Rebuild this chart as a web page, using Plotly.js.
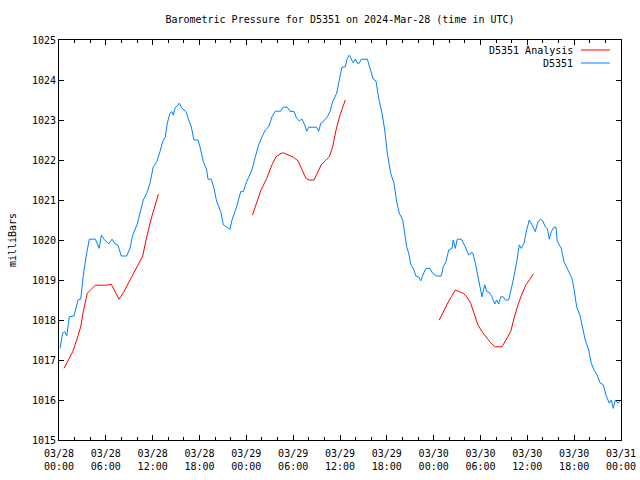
<!DOCTYPE html>
<html>
<head>
<meta charset="utf-8">
<script src="https://cdn.plot.ly/plotly-3.0.1.min.js"></script>
<style>html,body{margin:0;padding:0;background:#fff;}#chart{width:640px;height:480px;}</style>
</head>
<body>
<div id="chart"></div>
<script>
// Hours since 2024-03-28 00:00 UTC
const obsHours = [0.13,0.47,0.73,0.99,1.32,1.92,2.43,2.78,3.11,3.46,3.88,4.65,5.16,5.42,5.76,6.37,6.79,7.21,7.56,7.98,8.67,9.10,9.44,10.03,10.47,10.80,11.24,11.66,12.08,12.52,12.94,13.28,13.62,13.87,14.22,14.48,14.64,14.90,15.15,15.41,15.76,16.27,16.62,16.95,17.29,17.81,18.06,18.49,18.92,19.09,19.51,19.86,20.20,20.72,21.05,21.56,21.91,22.16,22.76,23.28,23.61,24.05,24.72,25.15,25.58,26.01,26.43,26.86,27.29,27.71,28.40,28.73,29.25,29.59,30.11,30.45,30.78,31.13,31.48,31.73,31.99,33.01,33.27,33.53,33.86,34.37,34.72,35.06,35.58,35.91,36.25,36.68,36.93,37.19,37.45,37.70,37.96,38.21,38.47,38.73,39.50,39.93,40.26,40.61,40.96,41.38,41.73,42.06,42.49,42.92,43.26,43.59,44.03,44.29,44.54,44.80,45.06,45.39,45.73,46.08,46.34,46.67,47.02,47.53,47.87,48.39,48.98,49.23,49.58,49.93,50.35,50.51,50.77,51.02,51.54,52.05,52.49,52.74,53.00,53.34,53.59,53.94,54.19,54.54,54.80,55.12,55.47,55.82,56.07,56.33,56.59,56.92,57.18,57.61,57.94,58.20,58.64,58.97,59.23,59.57,59.92,60.25,60.60,61.02,61.36,61.71,61.97,62.30,62.56,62.81,63.07,63.41,63.67,63.84,64.35,64.69,65.21,65.72,65.97,66.32,66.74,67.09,67.42,67.86,68.19,68.54,68.96,69.31,69.73,70.08,70.50,70.76,71.01,71.27,71.61,72.00];
const obsPressure = [1017.29,1017.67,1017.71,1017.60,1018.08,1018.10,1018.50,1018.52,1019.10,1019.58,1020.02,1020.02,1019.79,1020.12,1020.02,1019.90,1020.02,1019.90,1019.87,1019.60,1019.60,1019.79,1020.12,1020.40,1020.75,1021.00,1021.17,1021.42,1021.83,1021.96,1022.21,1022.46,1022.58,1022.92,1023.17,1023.21,1023.12,1023.32,1023.35,1023.42,1023.29,1023.21,1023.00,1022.83,1022.50,1022.50,1022.33,1021.96,1021.75,1021.52,1021.52,1021.29,1020.96,1020.71,1020.38,1020.32,1020.27,1020.50,1020.83,1021.21,1021.21,1021.46,1021.75,1022.08,1022.38,1022.58,1022.75,1022.83,1023.08,1023.22,1023.22,1023.32,1023.32,1023.22,1023.21,1023.04,1022.98,1023.02,1022.88,1022.72,1022.82,1022.82,1022.72,1022.92,1022.96,1023.08,1023.21,1023.46,1023.67,1024.00,1024.32,1024.33,1024.54,1024.62,1024.52,1024.43,1024.52,1024.42,1024.42,1024.52,1024.52,1024.27,1024.02,1023.98,1023.54,1023.17,1022.75,1022.17,1021.67,1021.42,1020.96,1020.67,1020.50,1020.17,1019.83,1019.67,1019.40,1019.29,1019.10,1019.08,1018.98,1019.15,1019.29,1019.29,1019.17,1019.10,1019.10,1019.33,1019.46,1019.75,1019.79,1020.00,1019.79,1020.02,1020.02,1019.83,1019.62,1019.68,1019.68,1019.42,1019.17,1018.79,1018.58,1018.88,1018.71,1018.69,1018.58,1018.40,1018.50,1018.40,1018.58,1018.58,1018.50,1018.50,1018.75,1019.00,1019.46,1019.88,1019.79,1019.92,1020.25,1020.50,1020.38,1020.21,1020.46,1020.52,1020.48,1020.33,1020.29,1020.02,1020.21,1020.32,1020.32,1019.96,1019.79,1019.46,1019.25,1019.04,1018.79,1018.33,1018.12,1017.83,1017.50,1017.25,1016.92,1016.75,1016.62,1016.43,1016.38,1016.12,1015.92,1016.00,1015.79,1016.00,1015.92,1016.00];

const anaHours = [0.64,1.19,1.76,2.27,2.78,3.11,3.63,4.65,6.11,6.70,7.69,8.24,9.10,10.03,10.72,11.24,11.88,12.52,12.72,
  null,
  24.78,25.33,25.84,26.61,27.29,27.80,28.31,28.73,29.50,30.02,30.62,31.13,31.64,32.07,32.67,33.09,33.60,34.11,34.63,35.06,35.49,36.00,36.42,36.68,
  null,
  48.72,49.23,49.74,50.26,50.77,51.28,51.79,52.23,52.74,53.16,53.67,54.19,54.70,55.30,55.82,56.75,57.26,57.87,58.29,58.80,59.31,59.82,60.34,60.76];
const anaPressure = [1016.79,1017.00,1017.21,1017.50,1017.83,1018.21,1018.67,1018.87,1018.87,1018.89,1018.52,1018.68,1019.00,1019.33,1019.60,1020.08,1020.58,1021.00,1021.15,
  null,
  1020.62,1020.96,1021.23,1021.54,1021.88,1022.08,1022.15,1022.18,1022.12,1022.07,1021.98,1021.75,1021.54,1021.50,1021.50,1021.67,1021.88,1021.98,1022.08,1022.33,1022.75,1023.12,1023.38,1023.50,
  null,
  1018.00,1018.21,1018.40,1018.58,1018.75,1018.71,1018.67,1018.58,1018.42,1018.17,1017.88,1017.71,1017.58,1017.43,1017.33,1017.33,1017.50,1017.71,1018.04,1018.38,1018.65,1018.88,1019.02,1019.15];

const seriesNames = ['D5351 Analysis', 'D5351'];
const seriesColors = ['#ff0000', '#0080ff'];
const titleText = 'Barometric Pressure for D5351 on 2024-Mar-28 (time in UTC)';
const yLabel = 'milliBars';

const T0 = Date.UTC(2024, 2, 28, 0, 0, 0);
const HOUR = 3600000;
const toTime = h => (h === null ? null : T0 + h * HOUR);

const font = 'DejaVu Sans Mono, monospace';

const traces = [
  {x: anaHours.map(toTime), y: anaPressure, type: 'scatter', mode: 'lines',
   name: seriesNames[0], line: {color: seriesColors[0], width: 1}, connectgaps: false, showlegend: false},
  {x: obsHours.map(toTime), y: obsPressure, type: 'scatter', mode: 'lines',
   name: seriesNames[1], line: {color: seriesColors[1], width: 1}, showlegend: false}
];

const legY = [0.975, 0.9425];
const layout = {
  width: 640, height: 480,
  margin: {l: 59, r: 19, t: 40, b: 40},
  paper_bgcolor: '#fff', plot_bgcolor: '#fff',
  font: {family: font, size: 10, color: '#000'},
  title: {text: titleText, x: 0.5, xref: 'paper', xanchor: 'center', y: 1 - 19/480, yanchor: 'middle',
          font: {family: font, size: 10, color: '#000'}},
  showlegend: false,
  xaxis: {
    type: 'date',
    range: [T0, T0 + 72 * HOUR],
    tick0: T0, dtick: 6 * HOUR,
    tickformat: '%m/%d<br>%H:%M',
    ticks: 'inside', ticklen: 5, tickcolor: '#000', tickwidth: 1,
    ticklabelstandoff: 4,
    minor: {dtick: 2 * HOUR, ticks: 'inside', ticklen: 3, tickcolor: '#000', tickwidth: 1, showgrid: false},
    showline: true, linecolor: '#000', linewidth: 1, mirror: 'ticks',
    showgrid: false, zeroline: false,
    tickfont: {family: font, size: 10, color: '#000'}
  },
  yaxis: {
    range: [1015, 1025], dtick: 1, tick0: 1015,
    ticks: 'inside', ticklen: 5, tickcolor: '#000', tickwidth: 1,
    showline: true, linecolor: '#000', linewidth: 1, mirror: 'ticks',
    showgrid: false, zeroline: false,
    tickfont: {family: font, size: 10, color: '#000'},
    title: {text: yLabel, font: {family: font, size: 10, color: '#000'}, standoff: 13}
  },
  annotations: seriesNames.map((n, i) => ({
    text: n, xref: 'paper', yref: 'paper', x: 0.918, y: legY[i],
    xanchor: 'right', yanchor: 'middle', showarrow: false,
    font: {family: font, size: 10, color: '#000'}
  })),
  shapes: seriesNames.map((n, i) => ({
    type: 'line', xref: 'paper', yref: 'paper', x0: 0.9288, x1: 0.9804, y0: legY[i], y1: legY[i],
    line: {color: seriesColors[i], width: 1}
  }))
};

Plotly.newPlot('chart', traces, layout, {displayModeBar: false, staticPlot: true});
</script>
</body>
</html>
